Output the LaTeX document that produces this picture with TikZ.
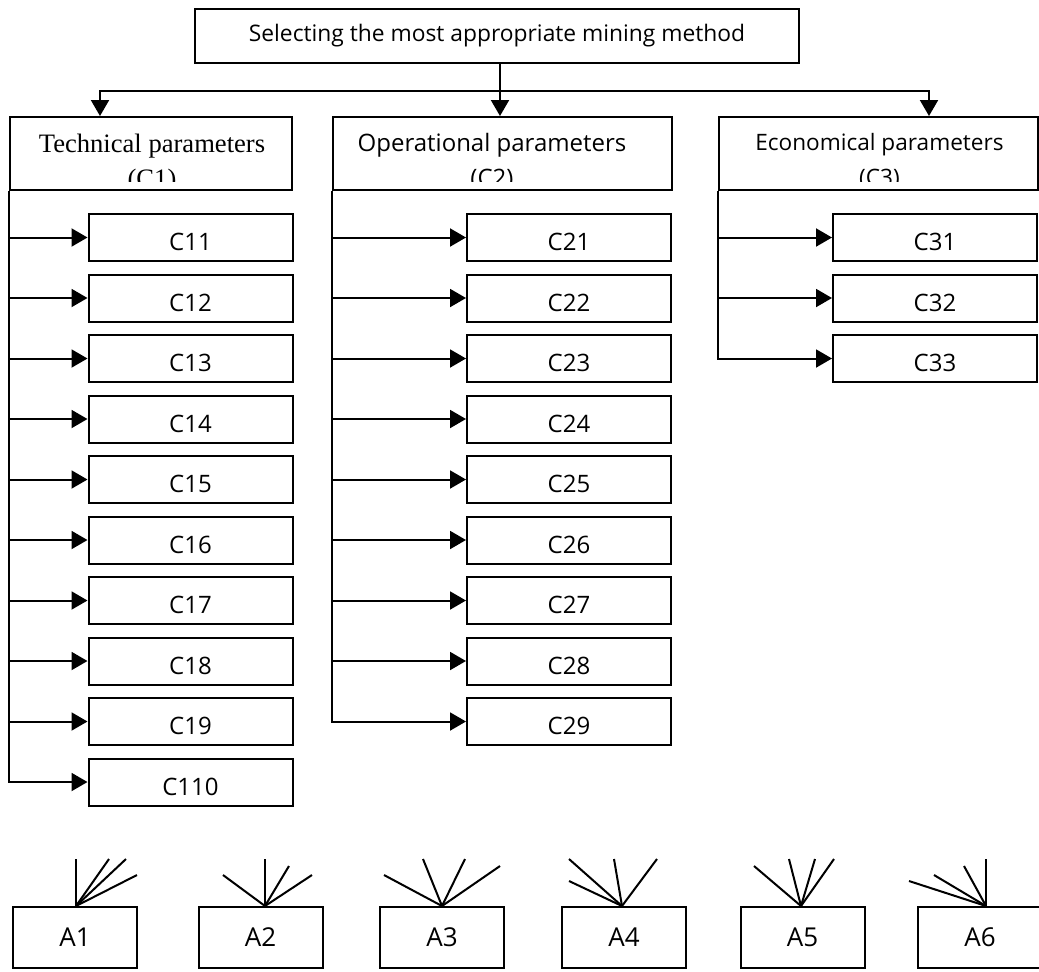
\documentclass[tikz,border=0pt]{standalone}
\usepackage{fontspec}
\setmainfont{Liberation Serif}
\newfontfamily\optfont{Open Sans}
\usetikzlibrary{arrows.meta}
\begin{document}
\begin{tikzpicture}[x=0.5pt, y=-0.5pt, line width=1pt,
    goal/.style={draw, minimum width=302pt, minimum height=27pt, font=\optfont\fontsize{11.4}{13}\selectfont},
    crit/.style={draw, minimum height=36.5pt, inner sep=0pt},
    crittext/.style={anchor=north, align=center, inner sep=0pt},
    sub/.style={draw, minimum width=102pt, minimum height=23.5pt, text height=13pt, text depth=0pt, font=\optfont\fontsize{12}{14}\selectfont},
    alt/.style={draw, minimum width=62pt, minimum height=30.5pt, font=\optfont\fontsize{13}{15}\selectfont},
    link/.style={-{Triangle[length=8pt,width=9pt]}}]
  \useasboundingbox (0,0) rectangle (1039,971);
  % goal and criteria
  \node[goal] (goal) at (497,36) {Selecting the most appropriate mining method};
  \node[crit, minimum width=141pt] (c1) at (151,153.5) {};
  \node[crit, minimum width=169.5pt] (c2) at (502.5,153.5) {};
  \node[crit, minimum width=159.5pt] (c3) at (878.5,153.5) {};
  \begin{scope}
    \clip (0,117) rectangle (1039,181.5);
    \node[crittext, font=\fontsize{13.3}{17.5}\selectfont] (t1) at (152,133) {Technical parameters\\(C1)};
    \node[crittext, font=\optfont\fontsize{12}{17.5}\selectfont] (t2) at (492,132) {Operational parameters\\(C2)};
    \node[crittext, font=\optfont\fontsize{11.3}{17.5}\selectfont] (t3) at (879.5,132) {Economical parameters\\(C3)};
  \end{scope}
  \coordinate (bus) at (500,91);
  \draw[link] (goal.south -| bus) -- (bus |- c2.north);
  \draw[link] (bus) -| ([xshift=-25.5pt]c1.north);
  \draw[link] (bus) -| ([xshift=25.25pt]c3.north);
  % sub-criteria
  \foreach \i in {1,...,10} {
    \node[sub] (c1\i) at (190.5,{237.5+60.5*(\i-1)}) {C1\i};
    \draw[link] (c1.south west) |- (c1\i.west);
  }
  \foreach \i in {1,...,9} {
    \node[sub] (c2\i) at (569,{237.5+60.5*(\i-1)}) {C2\i};
    \draw[link] (c2.south west) |- (c2\i.west);
  }
  \foreach \i in {1,...,3} {
    \node[sub] (c3\i) at (935,{237.5+60.5*(\i-1)}) {C3\i};
    \draw[link] (c3.south west) |- (c3\i.west);
  }
  % alternatives
  \foreach \n/\x in {1/75,2/260.5,3/442,4/624,5/802.5,6/980}
    \node[alt] (a\n) at (\x,937.5) {A\n};
  \foreach \dx/\dy in {0/-47,33/-47,50/-47,61/-31} \draw ([xshift=0.5pt]a1.north) -- ++(\dx,\dy);
  \foreach \dx/\dy in {-42/-31,0/-47,24/-40,47/-31} \draw ([xshift=2.25pt]a2.north) -- ++(\dx,\dy);
  \foreach \dx/\dy in {-58/-31,-19/-47,23/-47,58/-40} \draw (a3.north) -- ++(\dx,\dy);
  \foreach \dx/\dy in {-53/-25,-53/-47,-8/-47,35/-47} \draw ([xshift=-1pt]a4.north) -- ++(\dx,\dy);
  \foreach \dx/\dy in {-47/-40,-12/-47,14/-47,33/-47} \draw ([xshift=-0.75pt]a5.north) -- ++(\dx,\dy);
  \foreach \dx/\dy in {-77/-25,-52/-31,-22/-40,0/-47} \draw ([xshift=3pt]a6.north) -- ++(\dx,\dy);
\end{tikzpicture}
\end{document}
